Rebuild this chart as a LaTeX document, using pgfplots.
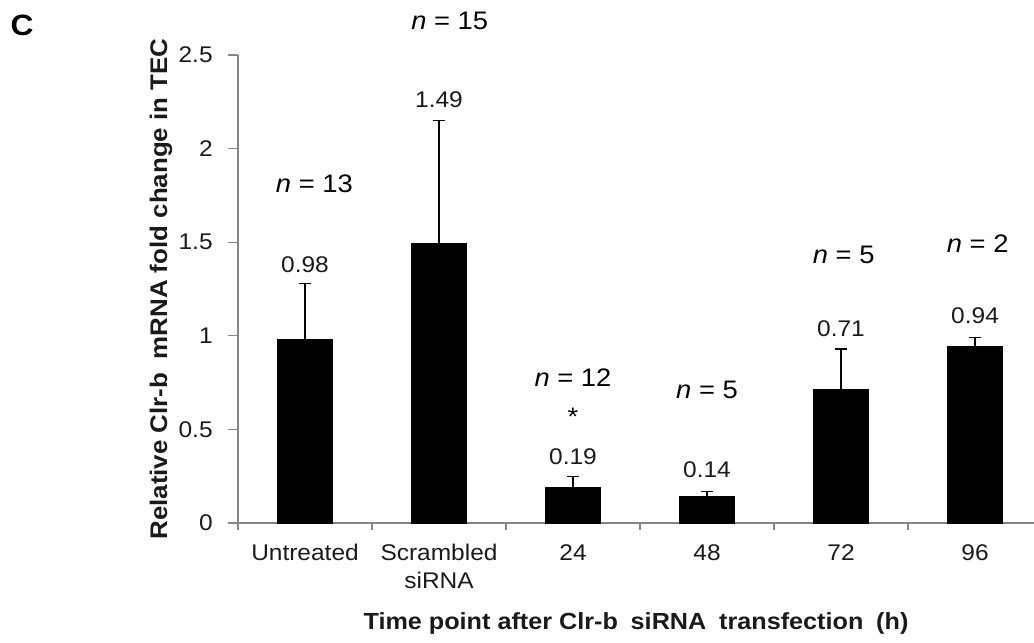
\documentclass[border=0pt]{standalone}
\usepackage{pgfplots}
\pgfplotsset{compat=1.18}
\usepackage{fontspec}
\setmainfont[FakeStretch=1.08]{Liberation Sans}
\definecolor{axisgray}{HTML}{868686}
\definecolor{txt}{HTML}{1A1A1A}

\begin{document}
\begin{tikzpicture}[x=0.75pt,y=0.75pt]
\begin{axis}[
  scale only axis,
  width=597pt, height=351pt,
  xmin=-0.5, xmax=5.44,
  ymin=0, ymax=2.5,
  clip=false,
  axis x line=bottom, axis y line=left,
  axis line style={axisgray, line width=0.9pt, -},
  xtick={0,1,2,3,4,5},
  xticklabels={Untreated, {Scrambled\\siRNA}, 24, 48, 72, 96},
  xticklabel style={align=center, font=\fontsize{17}{21}\selectfont, text=txt, yshift=-5pt},
  minor xtick={-0.5,0.5,1.5,2.5,3.5,4.5},
  major x tick style={draw=none},
  minor tick length=5.25pt,
  minor x tick style={axisgray, line width=0.9pt},
  tick align=outside,
  ytick={0,0.5,1,1.5,2,2.5},
  yticklabels={0,0.5,1,1.5,2,2.5},
  major y tick style={axisgray, line width=0.9pt},
  major tick length=7.5pt,
  yticklabel style={font=\fontsize{17}{18}\selectfont, text=txt, xshift=-8pt},
  /pgf/number format/assume math mode=true,
  xlabel={\textbf{Time point after Clr-b\hspace{0.25em} siRNA\hspace{0.25em} transfection\hspace{0.25em} (h)}},
  xlabel style={font=\fontsize{17.5}{19}\selectfont, text=txt, yshift=-10.5pt},
  ylabel={\textbf{Relative Clr-b\hspace{0.25em} mRNA fold change in TEC}},
  ylabel style={font=\fontsize{18}{19}\selectfont, text=txt, yshift=-2pt},
  every axis plot/.append style={line width=1pt},
]
\addplot[ybar, bar width=41pt, fill=black, draw=black,
  error bars/.cd, y dir=plus, y explicit,
  error bar style={black, line width=1pt},
  error mark options={rotate=90, mark size=4.8pt, line width=1pt, black}]
  coordinates {
    (0,0.98) +- (0,0.30)
    (1,1.49) +- (0,0.66)
    (2,0.19) +- (0,0.06)
    (3,0.14) +- (0,0.03)
    (4,0.71) +- (0,0.22)
    (5,0.94) +- (0,0.05)
  };

% value labels above the error bars
\begin{scope}[every node/.style={font=\fontsize{17}{18}\selectfont, text=txt}]
\node at (axis cs:0,1.38) {0.98};
\node at (axis cs:1,2.26) {1.49};
\node at (axis cs:2,0.353) {0.19};
\node at (axis cs:3,0.283) {0.14};
\node at (axis cs:4,1.04) {0.71};
\node at (axis cs:5,1.107) {0.94};
\end{scope}

% sample sizes
\begin{scope}[every node/.style={font=\fontsize{19}{20}\selectfont, text=black}]
\node at (axis cs:0.07,1.81) {\textit{n} = 13};
\node at (axis cs:1.08,2.68) {\textit{n} = 15};
\node at (axis cs:2,0.775) {\textit{n} = 12};
\node at (axis cs:2,0.565) {*};
\node at (axis cs:3,0.71) {\textit{n} = 5};
\node at (axis cs:4.02,1.43) {\textit{n} = 5};
\node at (axis cs:5.02,1.49) {\textit{n} = 2};
\end{scope}
\end{axis}
\node[font=\bfseries\fontsize{22}{24}\selectfont] at (-216,498) {C};
\pgfresetboundingbox
\path[use as bounding box] (-238,-119) rectangle (796,523);
\end{tikzpicture}
\end{document}
